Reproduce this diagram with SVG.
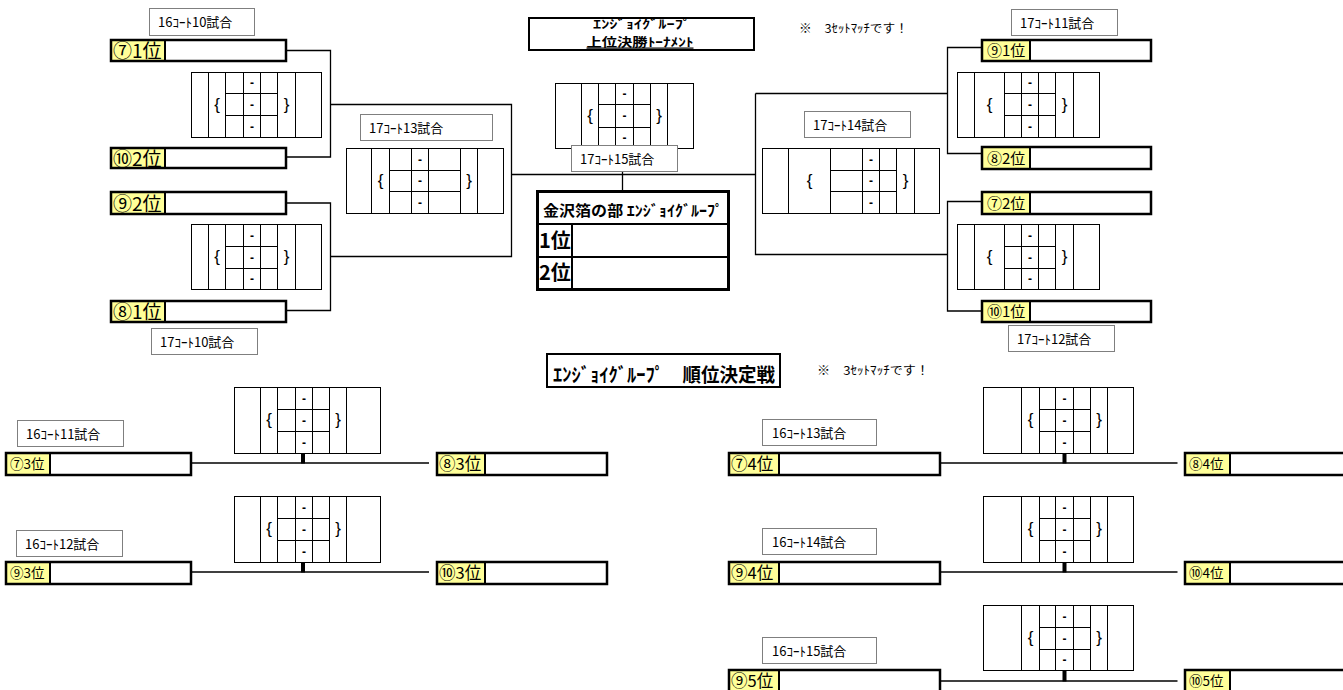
<svg xmlns="http://www.w3.org/2000/svg" width="1343" height="690" viewBox="0 0 1343 690">
<style>
text{font-family:"Noto Sans CJK JP","Noto Sans",sans-serif;fill:#000}
.g rect{fill:#fff;stroke:#000;stroke-width:1}
.g path{fill:none;stroke:#000;stroke-width:1}
.g text{font-family:"Liberation Sans",sans-serif;text-anchor:middle}
.d{font-size:12px;font-weight:bold}
.b{font-size:17px}
.lb rect{fill:#fff;stroke:#7f7f7f;stroke-width:1}
.lb text{font-size:13px}
.nm .y{fill:#ffff99}
.nm .o{fill:none;stroke:#000;stroke-width:2.5}
.nm line{stroke:#000;stroke-width:2}
.conn path{fill:none;stroke:#000;stroke-width:1.3}
.bar{fill:#000}
.t1{font-size:19px}.t2{font-size:15px}.t3{font-size:13.5px}.t4{font-size:16.5px}
.note{font-size:12px}
</style>
<rect width="1343" height="690" fill="#fff"/>

<g id="connectors" class="conn">
<path d="M286 50.5H330.5V157H286"/>
<path d="M286 203H330.5V310.5H286"/>
<path d="M330.5 104.5H511.5V256.5H330.5"/>
<path d="M511.5 174.5H755.5"/>
<path d="M755.5 93.5H947.5M755.5 93.5V254.5H947.5"/>
<path d="M982 47.5H947.5V153.5H982"/>
<path d="M982 201.5H947.5V311H982"/>
<path d="M622.5 172V190"/>
<path d="M191 463H429"/>
<path d="M191 572H429"/>
<path d="M940 463H1177.5"/>
<path d="M940 572H1177.5"/>
<path d="M940 681H1177.5"/>
<rect class="bar" x="301" y="453" width="4" height="10.5"/>
<rect class="bar" x="301" y="562" width="4" height="10.5"/>
<rect class="bar" x="1062.5" y="453" width="4" height="10.5"/>
<rect class="bar" x="1062.5" y="562" width="4" height="10.5"/>
<rect class="bar" x="1062.5" y="670" width="4" height="11.5"/>
</g>

<!-- titles -->
<g id="title-top">
<rect x="529" y="18" width="225" height="32" fill="#fff" stroke="#000" stroke-width="2"/>
<text x="642" y="28.5" font-size="12" font-weight="bold" text-anchor="middle" textLength="98" lengthAdjust="spacingAndGlyphs">ｴﾝｼﾞｮｲｸﾞﾙｰﾌﾟ</text>
<text x="640" y="46.5" font-size="12" font-weight="bold" text-anchor="middle" text-decoration="underline" textLength="107" lengthAdjust="spacingAndGlyphs">上位決勝ﾄｰﾅﾒﾝﾄ</text>
</g>
<g id="note-top"><text class="note" x="799" y="33" textLength="109" lengthAdjust="spacingAndGlyphs">※　3ｾｯﾄﾏｯﾁです！</text></g>
<g id="title-bottom">
<rect x="547" y="354" width="233" height="33" fill="#fff" stroke="#000" stroke-width="2"/>
<text x="553" y="382" font-size="19" font-weight="bold" textLength="222" lengthAdjust="spacingAndGlyphs">ｴﾝｼﾞｮｲｸﾞﾙｰﾌﾟ　順位決定戦</text>
</g>
<g id="note-bottom"><text class="note" x="817" y="375" textLength="112" lengthAdjust="spacingAndGlyphs">※　3ｾｯﾄﾏｯﾁです！</text></g>

<!-- result table -->
<g id="result-table">
<rect x="537.5" y="191.5" width="191" height="98" fill="#fff" stroke="#000" stroke-width="3"/>
<path d="M537.5 224H728.5M537.5 257H728.5M572 224V289.5" stroke="#000" stroke-width="2" fill="none"/>
<text x="543" y="216" font-size="15" font-weight="bold" textLength="180" lengthAdjust="spacingAndGlyphs">金沢箔の部  ｴﾝｼﾞｮｲｸﾞﾙｰﾌﾟ</text>
<text x="539" y="248" font-size="20" font-weight="bold">1位</text>
<text x="539" y="280" font-size="20" font-weight="bold">2位</text>
</g>

<!-- score grids -->
<g id="score-a" class="g">
<rect x="191.5" y="72.5" width="130" height="65"/>
<path d="M208.5 72.5V137.5M225.5 72.5V137.5M243.5 72.5V137.5M260.5 72.5V137.5M277.5 72.5V137.5M295.5 72.5V137.5M225.5 93.5H277.5M225.5 115.5H277.5"/>
<text class="b" x="217" y="109.5">{</text><text class="b" x="286.5" y="109.5">}</text>
<text class="d" x="252" y="87">-</text><text class="d" x="252" y="108.5">-</text><text class="d" x="252" y="130.5">-</text>
</g>
<g id="score-b" class="g">
<rect x="191.5" y="224.5" width="130" height="65"/>
<path d="M208.5 224.5V289.5M225.5 224.5V289.5M243.5 224.5V289.5M260.5 224.5V289.5M277.5 224.5V289.5M295.5 224.5V289.5M225.5 246.5H277.5M225.5 268.5H277.5"/>
<text class="b" x="217" y="261.5">{</text><text class="b" x="286.5" y="261.5">}</text>
<text class="d" x="252" y="239.5">-</text><text class="d" x="252" y="261.5">-</text><text class="d" x="252" y="283">-</text>
</g>
<g id="score-13" class="g">
<rect x="346.5" y="148.5" width="157" height="65"/>
<path d="M371.5 148.5V213.5M389.5 148.5V213.5M411.5 148.5V213.5M428.5 148.5V213.5M460.5 148.5V213.5M477.5 148.5V213.5M389.5 170.5H460.5M389.5 191.5H460.5"/>
<text class="b" x="380.5" y="185.5">{</text><text class="b" x="469" y="185.5">}</text>
<text class="d" x="420" y="163.5">-</text><text class="d" x="420" y="185">-</text><text class="d" x="420" y="206.5">-</text>
</g>
<g id="score-15" class="g">
<rect x="555.5" y="83.5" width="138" height="65"/>
<path d="M581.5 83.5V148.5M598.5 83.5V148.5M615.5 83.5V148.5M633.5 83.5V148.5M650.5 83.5V148.5M667.5 83.5V148.5M598.5 104.5H650.5M598.5 127.5H650.5"/>
<text class="b" x="590" y="120.5">{</text><text class="b" x="659" y="120.5">}</text>
<text class="d" x="624.5" y="98">-</text><text class="d" x="624.5" y="120">-</text><text class="d" x="624.5" y="142">-</text>
</g>
<g id="score-14" class="g">
<rect x="762.5" y="148.5" width="177" height="65"/>
<path d="M788.5 148.5V213.5M830.5 148.5V213.5M862.5 148.5V213.5M879.5 148.5V213.5M896.5 148.5V213.5M914.5 148.5V213.5M830.5 170.5H896.5M830.5 191.5H896.5"/>
<text class="b" x="809.5" y="185.5">{</text><text class="b" x="905.5" y="185.5">}</text>
<text class="d" x="871" y="163.5">-</text><text class="d" x="871" y="185">-</text><text class="d" x="871" y="206.5">-</text>
</g>
<g id="score-11" class="g">
<rect x="957.5" y="72.5" width="142" height="65"/>
<path d="M974.5 72.5V137.5M1004.5 72.5V137.5M1021.5 72.5V137.5M1038.5 72.5V137.5M1055.5 72.5V137.5M1073.5 72.5V137.5M1004.5 93.5H1055.5M1004.5 115.5H1055.5"/>
<text class="b" x="989.5" y="109.5">{</text><text class="b" x="1064.5" y="109.5">}</text>
<text class="d" x="1030" y="87">-</text><text class="d" x="1030" y="108.5">-</text><text class="d" x="1030" y="130.5">-</text>
</g>
<g id="score-12" class="g">
<rect x="957.5" y="224.5" width="142" height="65"/>
<path d="M974.5 224.5V289.5M1004.5 224.5V289.5M1021.5 224.5V289.5M1038.5 224.5V289.5M1055.5 224.5V289.5M1073.5 224.5V289.5M1004.5 246.5H1055.5M1004.5 268.5H1055.5"/>
<text class="b" x="989.5" y="261.5">{</text><text class="b" x="1064.5" y="261.5">}</text>
<text class="d" x="1030" y="239.5">-</text><text class="d" x="1030" y="261.5">-</text><text class="d" x="1030" y="283">-</text>
</g>
<g id="score-bl1" class="g">
<rect x="234.5" y="387.5" width="146" height="66"/>
<path d="M260.5 387.5V453.5M277.5 387.5V453.5M295.5 387.5V453.5M312.5 387.5V453.5M329.5 387.5V453.5M346.5 387.5V453.5M277.5 409.5H329.5M277.5 431.5H329.5"/>
<text class="b" x="269" y="425">{</text><text class="b" x="338" y="425">}</text>
<text class="d" x="304" y="402.5">-</text><text class="d" x="304" y="424.5">-</text><text class="d" x="304" y="446.5">-</text>
</g>
<g id="score-bl2" class="g">
<rect x="234.5" y="496.5" width="146" height="66"/>
<path d="M260.5 496.5V562.5M277.5 496.5V562.5M295.5 496.5V562.5M312.5 496.5V562.5M329.5 496.5V562.5M346.5 496.5V562.5M277.5 518.5H329.5M277.5 540.5H329.5"/>
<text class="b" x="269" y="534">{</text><text class="b" x="338" y="534">}</text>
<text class="d" x="304" y="511.5">-</text><text class="d" x="304" y="533.5">-</text><text class="d" x="304" y="555.5">-</text>
</g>
<g id="score-br1" class="g">
<rect x="983.5" y="387.5" width="150" height="66"/>
<path d="M1021.5 387.5V453.5M1039.5 387.5V453.5M1055.5 387.5V453.5M1073.5 387.5V453.5M1090.5 387.5V453.5M1107.5 387.5V453.5M1039.5 409.5H1090.5M1039.5 431.5H1090.5"/>
<text class="b" x="1030.5" y="425">{</text><text class="b" x="1099" y="425">}</text>
<text class="d" x="1064.5" y="402.5">-</text><text class="d" x="1064.5" y="424.5">-</text><text class="d" x="1064.5" y="446.5">-</text>
</g>
<g id="score-br2" class="g">
<rect x="983.5" y="496.5" width="150" height="66"/>
<path d="M1021.5 496.5V562.5M1039.5 496.5V562.5M1055.5 496.5V562.5M1073.5 496.5V562.5M1090.5 496.5V562.5M1107.5 496.5V562.5M1039.5 518.5H1090.5M1039.5 540.5H1090.5"/>
<text class="b" x="1030.5" y="534">{</text><text class="b" x="1099" y="534">}</text>
<text class="d" x="1064.5" y="511.5">-</text><text class="d" x="1064.5" y="533.5">-</text><text class="d" x="1064.5" y="555.5">-</text>
</g>
<g id="score-br3" class="g">
<rect x="983.5" y="605.5" width="150" height="65"/>
<path d="M1021.5 605.5V670.5M1039.5 605.5V670.5M1055.5 605.5V670.5M1073.5 605.5V670.5M1090.5 605.5V670.5M1107.5 605.5V670.5M1039.5 627.5H1090.5M1039.5 649.5H1090.5"/>
<text class="b" x="1030.5" y="642.5">{</text><text class="b" x="1099" y="642.5">}</text>
<text class="d" x="1064.5" y="620.5">-</text><text class="d" x="1064.5" y="642.5">-</text><text class="d" x="1064.5" y="664">-</text>
</g>

<!-- court labels -->
<g id="lbl-16-10" class="lb"><rect x="149.5" y="8.5" width="105" height="27"/><text x="158" y="27">16ｺｰﾄ10試合</text></g>
<g id="lbl-17-10" class="lb"><rect x="151.5" y="328.5" width="106" height="26"/><text x="160" y="346.5">17ｺｰﾄ10試合</text></g>
<g id="lbl-17-13" class="lb"><rect x="360.5" y="114.5" width="132" height="26"/><text x="369" y="132.5">17ｺｰﾄ13試合</text></g>
<g id="lbl-17-15" class="lb"><rect x="571.5" y="145.5" width="106" height="26"/><text x="580" y="163.5">17ｺｰﾄ15試合</text></g>
<g id="lbl-17-14" class="lb"><rect x="804.5" y="111.5" width="106" height="26"/><text x="813" y="129.5">17ｺｰﾄ14試合</text></g>
<g id="lbl-17-11" class="lb"><rect x="1011.5" y="9.5" width="106" height="26"/><text x="1020" y="27.5">17ｺｰﾄ11試合</text></g>
<g id="lbl-17-12" class="lb"><rect x="1008.5" y="325.5" width="106" height="26"/><text x="1017" y="343.5">17ｺｰﾄ12試合</text></g>
<g id="lbl-16-11" class="lb"><rect x="17.5" y="420.5" width="106" height="26"/><text x="26" y="438.5">16ｺｰﾄ11試合</text></g>
<g id="lbl-16-12" class="lb"><rect x="16.5" y="530.5" width="106" height="26"/><text x="25" y="548.5">16ｺｰﾄ12試合</text></g>
<g id="lbl-16-13" class="lb"><rect x="762.5" y="419.5" width="114" height="26"/><text x="772" y="437.5">16ｺｰﾄ13試合</text></g>
<g id="lbl-16-14" class="lb"><rect x="762.5" y="528.5" width="114" height="26"/><text x="772" y="546.5">16ｺｰﾄ14試合</text></g>
<g id="lbl-16-15" class="lb"><rect x="762.5" y="637.5" width="114" height="26"/><text x="772" y="655.5">16ｺｰﾄ15試合</text></g>

<!-- name boxes top-left -->
<g id="n71" class="nm"><rect class="y" x="111" y="40" width="54" height="21"/><rect class="o" x="111" y="40" width="175" height="21"/><line x1="165" y1="40" x2="165" y2="61"/><text class="t1" x="113" y="58">⑦1位</text></g>
<g id="n102" class="nm"><rect class="y" x="111" y="148" width="54" height="20"/><rect class="o" x="111" y="148" width="175" height="20"/><line x1="165" y1="148" x2="165" y2="168"/><text class="t1" x="113" y="165.5">⑩2位</text></g>
<g id="n92" class="nm"><rect class="y" x="111" y="192" width="54" height="22"/><rect class="o" x="111" y="192" width="175" height="22"/><line x1="165" y1="192" x2="165" y2="214"/><text class="t1" x="113" y="211">⑨2位</text></g>
<g id="n81" class="nm"><rect class="y" x="111" y="301" width="54" height="21"/><rect class="o" x="111" y="301" width="175" height="21"/><line x1="165" y1="301" x2="165" y2="322"/><text class="t1" x="113" y="319">⑧1位</text></g>

<!-- name boxes top-right -->
<g id="n91" class="nm"><rect class="y" x="982" y="40" width="48" height="21"/><rect class="o" x="982" y="40" width="169" height="21"/><line x1="1030" y1="40" x2="1030" y2="61"/><text class="t2" x="987" y="56">⑨1位</text></g>
<g id="n82" class="nm"><rect class="y" x="982" y="147" width="48" height="22"/><rect class="o" x="982" y="147" width="169" height="22"/><line x1="1030" y1="147" x2="1030" y2="169"/><text class="t2" x="987" y="163.5">⑧2位</text></g>
<g id="n72" class="nm"><rect class="y" x="982" y="192" width="48" height="22"/><rect class="o" x="982" y="192" width="169" height="22"/><line x1="1030" y1="192" x2="1030" y2="214"/><text class="t2" x="987" y="208.5">⑦2位</text></g>
<g id="n101" class="nm"><rect class="y" x="982" y="301" width="48" height="21"/><rect class="o" x="982" y="301" width="169" height="21"/><line x1="1030" y1="301" x2="1030" y2="322"/><text class="t2" x="987" y="317">⑩1位</text></g>

<!-- name boxes bottom-left -->
<g id="n73" class="nm"><rect class="y" x="6" y="453" width="44" height="22"/><rect class="o" x="6" y="453" width="185" height="22"/><line x1="50" y1="453" x2="50" y2="475"/><text class="t3" x="10" y="468.5">⑦3位</text></g>
<g id="n83" class="nm"><rect class="y" x="437" y="453" width="48" height="22"/><rect class="o" x="437" y="453" width="170" height="22"/><line x1="485" y1="453" x2="485" y2="475"/><text class="t4" x="439" y="469.5">⑧3位</text></g>
<g id="n93" class="nm"><rect class="y" x="6" y="562" width="44" height="22"/><rect class="o" x="6" y="562" width="185" height="22"/><line x1="50" y1="562" x2="50" y2="584"/><text class="t3" x="10" y="577.5">⑨3位</text></g>
<g id="n103" class="nm"><rect class="y" x="437" y="562" width="48" height="22"/><rect class="o" x="437" y="562" width="170" height="22"/><line x1="485" y1="562" x2="485" y2="584"/><text class="t4" x="439" y="578.5">⑩3位</text></g>

<!-- name boxes bottom-right -->
<g id="n74" class="nm"><rect class="y" x="729" y="453" width="50" height="22"/><rect class="o" x="729" y="453" width="211" height="22"/><line x1="779" y1="453" x2="779" y2="475"/><text class="t4" x="731" y="469.5">⑦4位</text></g>
<g id="n84" class="nm"><rect class="y" x="1185" y="453" width="45" height="22"/><rect class="o" x="1185" y="453" width="165" height="22"/><line x1="1230" y1="453" x2="1230" y2="475"/><text class="t3" x="1189" y="468.5">⑧4位</text></g>
<g id="n94" class="nm"><rect class="y" x="729" y="562" width="50" height="22"/><rect class="o" x="729" y="562" width="211" height="22"/><line x1="779" y1="562" x2="779" y2="584"/><text class="t4" x="731" y="578.5">⑨4位</text></g>
<g id="n104" class="nm"><rect class="y" x="1185" y="562" width="45" height="22"/><rect class="o" x="1185" y="562" width="165" height="22"/><line x1="1230" y1="562" x2="1230" y2="584"/><text class="t3" x="1189" y="577.5">⑩4位</text></g>
<g id="n95" class="nm"><rect class="y" x="729" y="670" width="50" height="22"/><rect class="o" x="729" y="670" width="211" height="22"/><line x1="779" y1="670" x2="779" y2="692"/><text class="t4" x="731" y="686.5">⑨5位</text></g>
<g id="n105" class="nm"><rect class="y" x="1185" y="670" width="45" height="22"/><rect class="o" x="1185" y="670" width="165" height="22"/><line x1="1230" y1="670" x2="1230" y2="692"/><text class="t3" x="1189" y="685.5">⑩5位</text></g>
</svg>
